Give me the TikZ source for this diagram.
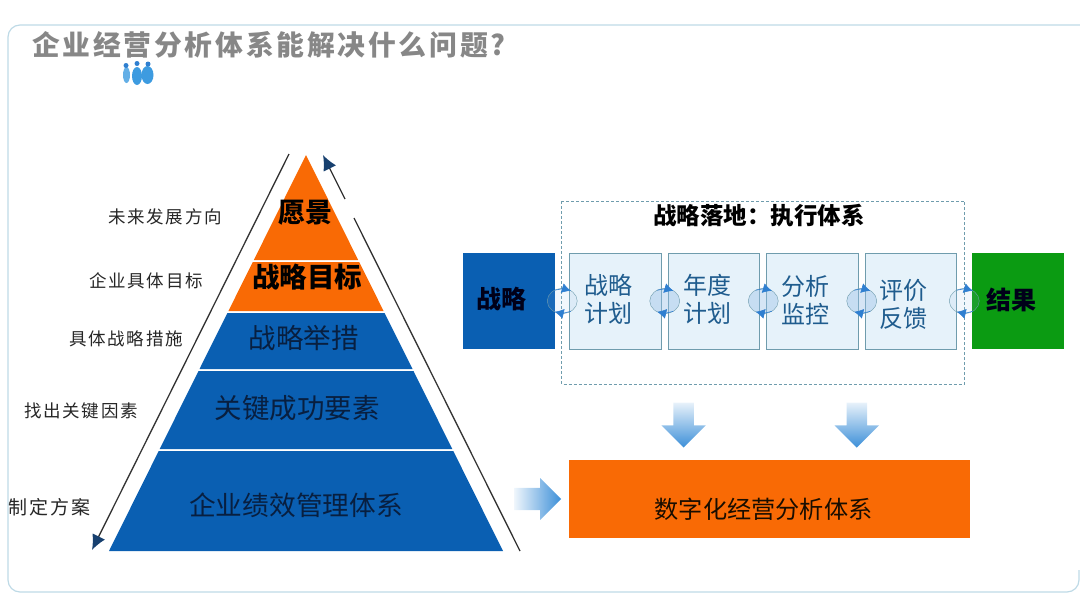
\documentclass[tikz,border=0pt]{standalone}
\usepackage{fontspec}
\usepackage{xcolor}
\usepackage{tikz}
\usetikzlibrary{shapes.geometric, shapes.arrows, arrows.meta, positioning, calc}
\setmainfont{Noto Sans CJK SC}
\newfontfamily\wideface[LetterSpace=10]{Noto Sans CJK SC}
\definecolor{bandblue}{HTML}{0A5FB2}
\definecolor{bandorange}{HTML}{F96A05}
\definecolor{resultgreen}{HTML}{0B9B12}
\definecolor{inkblue}{HTML}{081F40}
\definecolor{tipblue}{HTML}{17406F}
\definecolor{framecolor}{HTML}{BEDAE6}
\definecolor{stepedge}{HTML}{6F9CAD}
\definecolor{stepfill}{HTML}{E6F2FA}
\definecolor{stepink}{HTML}{1F5C8E}
\definecolor{loopblue}{HTML}{2F7FD0}
\definecolor{shadeblue}{HTML}{3C8FD8}
\definecolor{iconblue}{HTML}{3D9BE0}

\begin{document}
\begin{tikzpicture}[
        x=1pt, y=-1pt,
        every node/.style={inner sep=0pt, outer sep=0pt},
        band/.style={draw=none},
        sidetext/.style={font=\wideface\fontsize{17.5}{20}\selectfont, text=black!85},
        bandtext/.style={font=\fontsize{27.5}{32}\selectfont, text=inkblue},
        boldtext/.style={font=\bfseries\fontsize{27.5}{32}\selectfont, text=black},
        stepbox/.style={rectangle, draw=stepedge, line width=1pt, fill=stepfill, minimum width=91.5pt, minimum height=96pt},
        steptext/.style={font=\fontsize{24}{28}\selectfont, text=stepink, align=center},
        endbox/.style={rectangle, minimum width=92pt, minimum height=96pt},
        endtext/.style={font=\bfseries\fontsize{25}{28}\selectfont, text=black!90!blue},
        loopnode/.style={ellipse, draw=stepedge, fill=loopblue!50, fill opacity=.4, minimum width=30pt, minimum height=25pt},
        looptip/.style={-{Latex[length=9pt,width=10pt]}, loopblue, semithick},
        sideline/.style={line width=1.3pt, black!80},
        tipline/.style={sideline, -{Latex[length=15pt,width=14pt,color=tipblue]}},
        downarrow/.style={single arrow, shape border rotate=270, inner sep=10pt, single arrow head extend=12pt, single arrow tip angle=90, single arrow head indent=0pt, minimum height=45pt, top color=shadeblue!12, bottom color=shadeblue, draw=none}
    ]
    \useasboundingbox (0,0) rectangle (1080,608);

    % Frame and title
    \draw[framecolor, line width=1.2pt, rounded corners=12pt] (1081,25) -- (8,25) -- (8,592) -- (1079,592) -- (1079,570);
    \node[font=\wideface\bfseries\fontsize{27.8}{32}\selectfont, text=black!47, anchor=west] (title) at (32,45) {企业经营分析体系能解决什么问题?};

    % Small people icon
    \fill[iconblue!80] (126.5,75) ellipse (3.5pt and 8pt);
    \fill[iconblue] (137,76) ellipse (5pt and 9pt);
    \fill[iconblue] (147.5,75) ellipse (6pt and 9pt);
    \fill[loopblue] (126,65.5) circle (2.5pt);
    \fill[loopblue] (137,63.5) circle (2.5pt);
    \fill[loopblue] (148,64) circle (2.5pt);

    % Pyramid
    \fill[band, bandorange] (306,155) -- (358.2,260) -- (253.8,260) -- cycle;
    \fill[band, bandorange] (252.8,262) -- (359.2,262) -- (383.6,311) -- (228.4,311) -- cycle;
    \fill[band, bandblue] (227.4,313) -- (384.6,313) -- (412.5,369) -- (199.5,369) -- cycle;
    \fill[band, bandblue] (198.5,371) -- (413.5,371) -- (452.3,449) -- (159.7,449) -- cycle;
    \fill[band, bandblue] (158.7,451) -- (453.3,451) -- (503,551) -- (109,551) -- cycle;

    \node[boldtext, font=\bfseries\fontsize{27}{32}\selectfont] (vision) at (305.5,213) {愿景};
    \node[boldtext] (target) at (307,277) {战略目标};
    \node[bandtext] (action) at (303.5,338) {战略举措};
    \node[bandtext] (factor) at (297,408) {关键成功要素};
    \node[bandtext, font=\fontsize{26.7}{32}\selectfont] (perf) at (296,505) {企业绩效管理体系};

    % Side labels
    \node[sidetext, anchor=west] (dirtext) at (108,217) {未来发展方向};
    \node[sidetext, anchor=west] (goaltext) at (89,281) {企业具体目标};
    \node[sidetext, anchor=west] (meastext) at (69,339) {具体战略措施};
    \node[sidetext, anchor=west] (keytext) at (24,411) {找出关键因素};
    \node[sidetext, anchor=west, font=\wideface\fontsize{19}{20}\selectfont] (plantext) at (9,507) {制定方案};

    % Side lines
    \coordinate (lefttop) at (289,154);
    \coordinate (leftend) at (92,550);
    \coordinate (rightend) at (520,551);
    \coordinate (gaplow) at (354,218);
    \coordinate (gaphigh) at (345,199);
    \coordinate (righttop) at (323,155);
    \draw[tipline] (lefttop) -- (leftend);
    \draw[sideline] (rightend) -- (gaplow);
    \draw[tipline] (gaphigh) -- (righttop);

    % Execution chain
    \node[stepbox] (plan) at (615.5,301) {};
    \node[stepbox, right=7pt of plan] (year) {};
    \node[stepbox, right=7pt of year] (monitor) {};
    \node[stepbox, right=7pt of monitor] (review) {};
    \node[endbox, fill=bandblue, left=15pt of plan] (strategy) {};
    \node[endbox, fill=resultgreen, right=15pt of review] (result) {};

    \node[steptext] (plantxt) at ([xshift=-7.5pt,yshift=2pt]plan.center) {战略\\计划};
    \node[steptext] (yeartxt) at ([xshift=-7pt,yshift=2pt]year.center) {年度\\计划};
    \node[steptext] (montxt) at ([xshift=-7pt,yshift=.5pt]monitor.center) {分析\\监控};
    \node[steptext] (revtxt) at ([xshift=-7.5pt,yshift=-3pt]review.center) {评价\\反馈};
    \node[endtext] (strattxt) at ([xshift=-7pt,yshift=2pt]strategy.center) {战略};
    \node[endtext] (restxt) at ([xshift=-6pt,yshift=1pt]result.center) {结果};

    \draw[stepedge, densely dashed, line width=1pt] (561.7,201) rectangle (964.7,384);
    \node[font=\bfseries\fontsize{23.5}{28}\selectfont, text=black] (exectitle) at (759,216) {战略落地：执行体系};

    % Loops
    \node[loopnode, fill opacity=.12] (loop1) at ($(strategy.east)!.5!(plan.west)$) {};
    \node[loopnode] (loop2) at ($(plan.east)!.5!(year.west)$) {};
    \node[loopnode] (loop3) at ($(year.east)!.5!(monitor.west)$) {};
    \node[loopnode] (loop4) at ($(monitor.east)!.5!(review.west)$) {};
    \node[loopnode, fill opacity=.12] (loop5) at ($(review.east)!.5!(result.west)$) {};

    \draw[looptip] (loop1.125) to[bend left=15] (loop1.50);
    \draw[looptip] (loop1.-50) to[bend left=15] (loop1.-125);
    \draw[looptip] (loop2.125) to[bend left=15] (loop2.50);
    \draw[looptip] (loop2.-50) to[bend left=15] (loop2.-125);
    \draw[looptip] (loop3.125) to[bend left=15] (loop3.50);
    \draw[looptip] (loop3.-50) to[bend left=15] (loop3.-125);
    \draw[looptip] (loop4.125) to[bend left=15] (loop4.50);
    \draw[looptip] (loop4.-50) to[bend left=15] (loop4.-125);
    \draw[looptip] (loop5.125) to[bend left=15] (loop5.50);
    \draw[looptip] (loop5.-50) to[bend left=15] (loop5.-125);

    % Digital system box and arrows
    \node[rectangle, fill=bandorange, minimum width=401pt, minimum height=78pt] (digital) at (769.5,499) {};
    \node[font=\fontsize{24.2}{28}\selectfont, text=black!90!orange] (digitaltxt) at (763.5,509) {数字化经营分析体系};
    \node[downarrow] (down1) at (683.6,420) {};
    \node[downarrow] (down2) at (856.8,420) {};
    \node[downarrow, shape border rotate=0, inner sep=11pt, single arrow head extend=9.7pt, left color=shadeblue!8, right color=shadeblue, minimum height=47pt] (right1) at (532,499) {};
\end{tikzpicture}
\end{document}
